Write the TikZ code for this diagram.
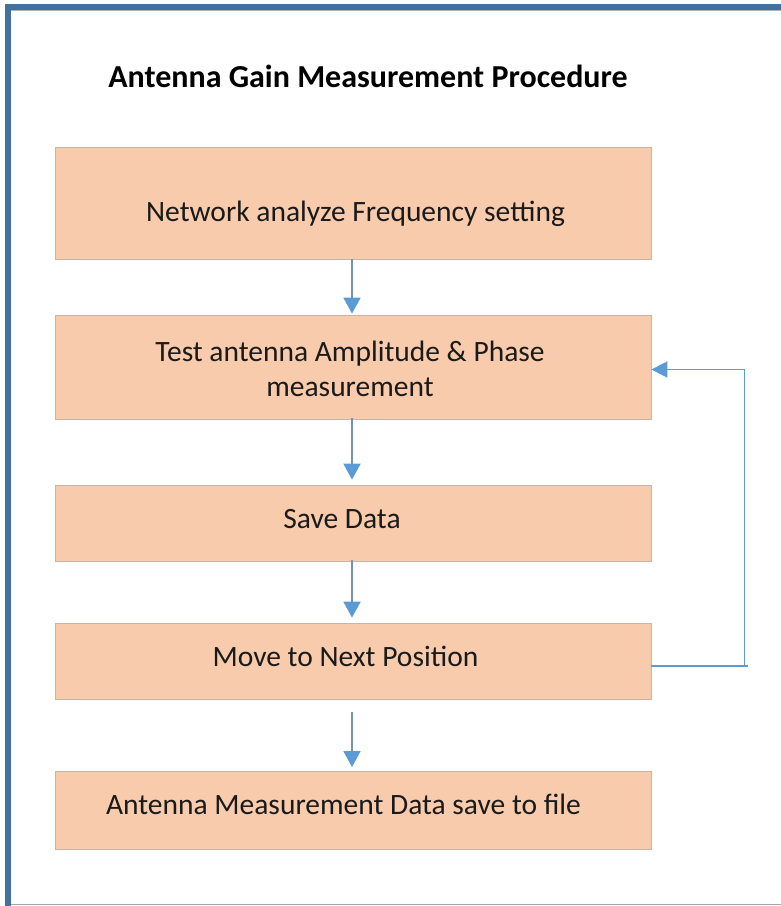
\documentclass[tikz,border=0pt]{standalone}
\usepackage{fontspec}
\setmainfont{Carlito}
\usetikzlibrary{arrows.meta}
\definecolor{frameblue}{HTML}{41719C}
\definecolor{boxfill}{HTML}{F8CBAD}
\definecolor{boxline}{HTML}{C8B4A8}
\definecolor{arrline}{HTML}{7393B3}
\definecolor{arrhead}{HTML}{5B9BD5}
\definecolor{txt}{HTML}{1A1A1A}
\tikzset{
  stepbox/.style={draw=boxline, line width=0.8pt, fill=boxfill, minimum width=596pt, inner sep=0pt},
  steptext/.style={text=txt, font=\fontsize{29.5}{35}\selectfont, align=center, inner sep=0pt},
  flow/.style={draw=arrline, line width=1.8pt, -{Triangle[width=17pt,length=16pt,color=arrhead]}},
  loopline/.style={draw=arrhead, line width=1.7pt, -{Triangle[width=16pt,length=16pt]}},
}
\begin{document}
\begin{tikzpicture}[x=1pt,y=-1pt]
\useasboundingbox (0,0) rectangle (781,906);
\fill[white] (0,0) rectangle (781,906);
% frame
\fill[frameblue] (5,4) rectangle (781,10);
\draw[gray!60, line width=0.8pt] (11,10.4) -- (781,10.4);
\fill[frameblue] (5,4) rectangle (11,906);
\draw[gray!70, line width=1.5pt] (11,904.5) -- (781,904.5);
% title
\node[text=black, font=\fontsize{32}{36}\selectfont\bfseries, anchor=base, inner sep=0pt] (title) at (368,87) {Antenna Gain Measurement Procedure};
% boxes
\node[stepbox, minimum height=112pt] (b1) at (353,203) {};
\node[stepbox, minimum height=104pt] (b2) at (353,367) {};
\node[stepbox, minimum height=76pt] (b3) at (353,523) {};
\node[stepbox, minimum height=76pt] (b4) at (353,661) {};
\node[stepbox, minimum height=78pt] (b5) at (353,810) {};
% texts
\node[steptext, anchor=base] (t1) at (355.5,221) {Network analyze Frequency setting};
\node[steptext, anchor=base] (t2a) at (350,361) {Test antenna Amplitude \& Phase};
\node[steptext, anchor=base] (t2b) at (350,396) {measurement};
\node[steptext, anchor=base] (t3) at (342,528) {Save Data};
\node[steptext, anchor=base] (t4) at (345.5,666) {Move to Next Position};
\node[steptext, anchor=base] (t5) at (343.5,814) {Antenna Measurement Data save to file};
% arrows
\coordinate (a4s) at (352,711.5);
\coordinate (a4e) at (352,767);
\draw[flow] ([xshift=-1pt]b1.south) -- ([xshift=-1pt,yshift=1pt]b2.north);
\draw[flow] ([xshift=-1pt,yshift=1pt]b2.south) -- ([xshift=-1pt,yshift=5pt]b3.north);
\draw[flow] ([xshift=-1pt,yshift=1pt]b3.south) -- ([xshift=-1pt,yshift=5pt]b4.north);
\draw[flow] (a4s) -- (a4e);
% loop
\coordinate (lc1) at (748,666);
\coordinate (lc2) at (744.5,369.5);
\draw[arrhead, line width=1.7pt] (b4.east |- lc1) -- (lc1);
\draw[loopline] (744.5,666) -- (lc2) -- (b2.east |- lc2);
\end{tikzpicture}
\end{document}
